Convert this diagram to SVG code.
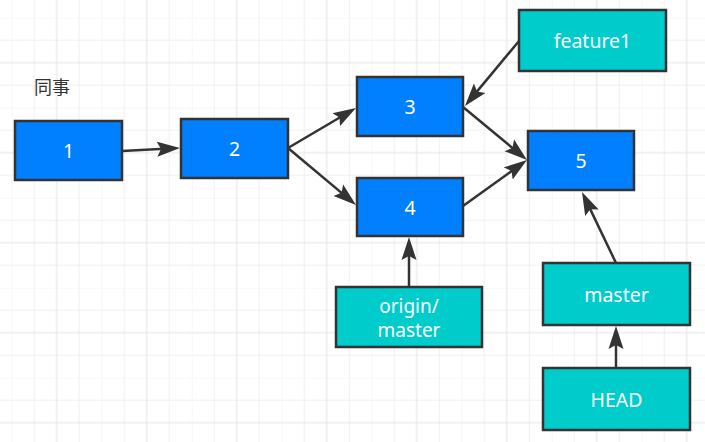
<svg xmlns="http://www.w3.org/2000/svg" width="705" height="442" viewBox="0 0 705 442">
<style>
.commit{fill:#007FFF;stroke:#333333;stroke-width:2.5}
.ref{fill:#00CCCC;stroke:#333333;stroke-width:2.5}
.lbl{font-family:"Noto Sans","Open Sans","Liberation Sans",sans-serif;font-size:19.5px;fill:#FFFFFF;text-anchor:middle}
.lbl2{font-family:"Noto Sans","Open Sans","Liberation Sans",sans-serif;font-size:19px;fill:#FFFFFF;text-anchor:middle}
.edge{fill:none;stroke:#333333;stroke-width:2.5}
.note{font-family:"Noto Sans CJK SC","Noto Sans",sans-serif;font-size:18px;fill:#333333}
</style>
<defs>
<pattern id="grid" patternUnits="userSpaceOnUse" x="11.7" y="17.7" width="90" height="90">
<path d="M0 0V90M22.5 0V90M67.5 0V90M0 0H90M0 22.5H90M0 67.5H90" stroke="#f0f0f0" stroke-width="1" fill="none"/>
<path d="M45 0V90M0 45H90" stroke="#e3e3e3" stroke-width="1" fill="none"/>
</pattern>
<marker id="arr" markerUnits="userSpaceOnUse" viewBox="0 0 23 16" markerWidth="23" markerHeight="16" refX="17" refY="8" orient="auto">
<path d="M0 0.5L23 8L0 15.5L4 8Z" fill="#333333"/>
</marker>
</defs>
<rect width="705" height="442" fill="#FFFFFF"/>
<rect width="705" height="442" fill="url(#grid)"/>
<text class="note" x="34" y="94">同事</text>
<g id="n1"><rect class="commit" x="15" y="121" width="107" height="59"/><text class="lbl" x="68.5" y="158">1</text></g>
<g id="n2"><rect class="commit" x="181" y="119" width="107" height="59"/><text class="lbl" x="234.5" y="156">2</text></g>
<g id="n3"><rect class="commit" x="357" y="77" width="106" height="59"/><text class="lbl" x="410" y="114">3</text></g>
<g id="n4"><rect class="commit" x="357" y="178" width="106" height="58"/><text class="lbl" x="410" y="214.5">4</text></g>
<g id="n5"><rect class="commit" x="528" y="131" width="106" height="59"/><text class="lbl" x="581" y="168">5</text></g>
<g id="feature1"><rect class="ref" x="519" y="10" width="147" height="61"/><text class="lbl" x="592.5" y="48">feature1</text></g>
<g id="origin-master"><rect class="ref" x="336" y="287" width="146" height="60"/><text class="lbl2" x="409" y="312.5">origin/</text><text class="lbl2" x="409" y="336.5">master</text></g>
<g id="master"><rect class="ref" x="543" y="263" width="147" height="62"/><text class="lbl" x="616.5" y="301.5">master</text></g>
<g id="head"><rect class="ref" x="543" y="368" width="147" height="62"/><text class="lbl" x="616.5" y="406.5">HEAD</text></g>
<g id="connectors">
<line class="edge" x1="122" y1="151" x2="174" y2="148.3" marker-end="url(#arr)"/>
<line class="edge" x1="288" y1="148" x2="350.8" y2="111" marker-end="url(#arr)"/>
<line class="edge" x1="288" y1="148" x2="351.4" y2="201.1" marker-end="url(#arr)"/>
<line class="edge" x1="463" y1="107" x2="522.4" y2="156.2" marker-end="url(#arr)"/>
<line class="edge" x1="463" y1="206" x2="522.1" y2="163.5" marker-end="url(#arr)"/>
<line class="edge" x1="519" y1="41" x2="468.8" y2="101.4" marker-end="url(#arr)"/>
<line class="edge" x1="616" y1="263" x2="584.6" y2="197.4" marker-end="url(#arr)"/>
<line class="edge" x1="409" y1="287" x2="409" y2="243" marker-end="url(#arr)"/>
<line class="edge" x1="616" y1="368" x2="616" y2="332" marker-end="url(#arr)"/>
</g>
</svg>
